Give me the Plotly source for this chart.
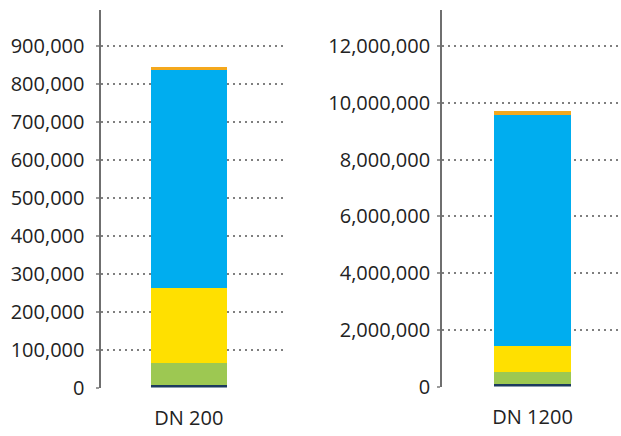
"""
Stacked cost bars for two pipe diameters (DN 200 / DN 1200)
"""

import plotly.graph_objects as go
from plotly.subplots import make_subplots

# categories, one per panel
LEFT_CATEGORY = ["DN 200"]
RIGHT_CATEGORY = ["DN 1200"]

# stacked segments, bottom to top
SEGMENT_NAMES = ["Segment 1", "Segment 2", "Segment 3", "Segment 4", "Segment 5"]
LEFT_VALUES = [6000, 59000, 197000, 575000, 9000]
RIGHT_VALUES = [78000, 444000, 916000, 8130000, 141000]

# tick values and labels
LEFT_TICKS = [0, 100000, 200000, 300000, 400000, 500000, 600000, 700000, 800000, 900000]
LEFT_TICK_TEXT = ["0", "100,000", "200,000", "300,000", "400,000", "500,000",
                  "600,000", "700,000", "800,000", "900,000"]
RIGHT_TICKS = [0, 2000000, 4000000, 6000000, 8000000, 10000000, 12000000]
RIGHT_TICK_TEXT = ["0", "2,000,000", "4,000,000", "6,000,000", "8,000,000",
                   "10,000,000", "12,000,000"]

colors = ["#1C3A5E", "#9DC852", "#FFE000", "#00ADEF", "#F4A81D"]

# the page ends up drawing the figure at about 618x423, so domains use that
W, H = 618, 423

fig = make_subplots(rows=1, cols=2)

for name, lv, rv, c in zip(SEGMENT_NAMES, LEFT_VALUES, RIGHT_VALUES, colors):
    fig.add_trace(
        go.Bar(x=LEFT_CATEGORY, y=[lv], name=name, marker_color=c,
               marker_line_width=0, width=0.415, showlegend=False),
        row=1, col=1,
    )
    fig.add_trace(
        go.Bar(x=RIGHT_CATEGORY, y=[rv], name=name, marker_color=c,
               marker_line_width=0, width=0.427, showlegend=False),
        row=1, col=2,
    )

tick_font = dict(family="Open Sans, Noto Sans, sans-serif", size=20, color="#222222")

yaxis_common = dict(
    showline=True, linecolor="#6F6F6F", linewidth=2,
    showgrid=True, gridcolor="#7F7F7F", gridwidth=2, griddash="2px,4px",
    zeroline=False,
    ticks="outside", ticklen=3, tickwidth=2, tickcolor="#9A9A9A",
    tickfont=tick_font, tickmode="array",
)
xaxis_common = dict(
    showline=False, showgrid=False, zeroline=False, ticks="",
    ticklabelstandoff=16, tickfont=tick_font,
)

fig.update_layout(
    barmode="stack",
    width=621, height=436,
    margin=dict(l=0, r=0, t=0, b=0),
    paper_bgcolor="#FFFFFF",
    plot_bgcolor="#FFFFFF",
    xaxis=dict(domain=[101 / W, 284 / W], range=[-0.475, 0.525], **xaxis_common),
    xaxis2=dict(domain=[440 / W, 1.0], range=[-0.5056, 0.4944], **xaxis_common),
    yaxis=dict(domain=[1 - 387.5 / H, 1 - 10 / H], range=[0, 995000],
               tickvals=LEFT_TICKS, ticktext=LEFT_TICK_TEXT,
               ticklabelstandoff=8, **yaxis_common),
    yaxis2=dict(domain=[1 - 386.5 / H, 1 - 10 / H], range=[0, 13270000],
                tickvals=RIGHT_TICKS, ticktext=RIGHT_TICK_TEXT,
                ticklabelstandoff=3, **yaxis_common),
)

# drop the default page margin so the figure sits at the window's top-left corner
fig.write_html(
    "out.html",
    config={"displayModeBar": False},
    post_script=(
        "document.body.style.margin='0';"
        "document.body.style.overflow='hidden';"
    ),
)
